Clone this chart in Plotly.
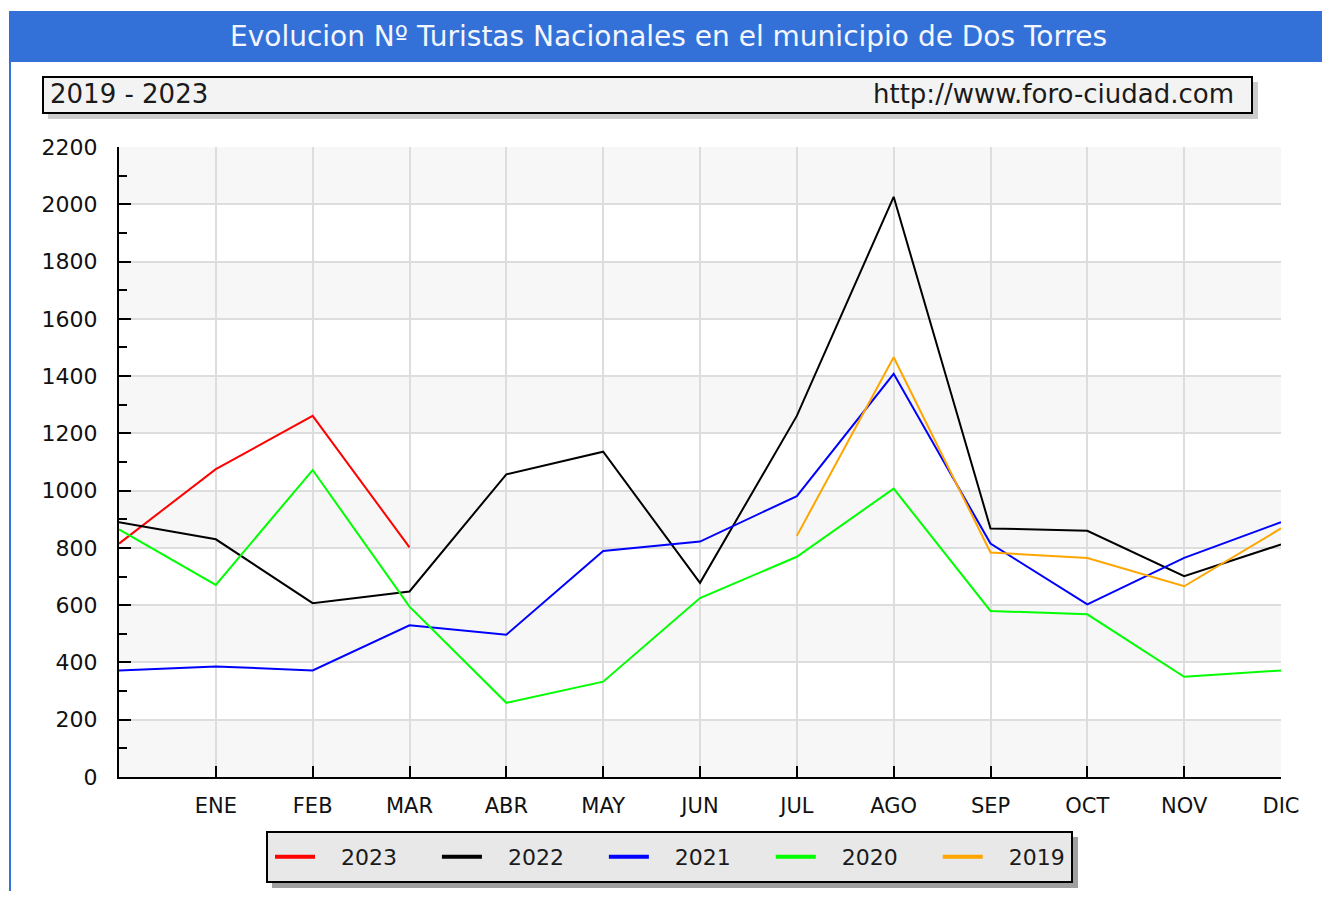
import plotly.graph_objects as go

# ---- data ----
months = ["ENE", "FEB", "MAR", "ABR", "MAY", "JUN", "JUL", "AGO", "SEP", "OCT", "NOV", "DIC"]
positions = list(range(13))  # 0 = start point before ENE

y2023 = [815, 1075, 1261, 802]
y2022 = [890, 830, 607, 648, 1057, 1136, 678, 1261, 2026, 868, 860, 701, 812]
y2021 = [372, 386, 372, 530, 497, 789, 822, 981, 1408, 815, 603, 765, 890]
y2020 = [865, 671, 1072, 595, 259, 333, 625, 769, 1007, 580, 568, 350, 372]
y2019 = [842, 1466, 784, 765, 666, 868]  # JUL..DIC
x2019 = positions[7:]

series = [
    ("2023", positions[:len(y2023)], y2023, "#ff0000"),
    ("2022", positions, y2022, "#000000"),
    ("2021", positions, y2021, "#0000ff"),
    ("2020", positions, y2020, "#00ff00"),
    ("2019", x2019, y2019, "#ffa500"),
]

OFF = 8  # page body margin
W, H = 1330 - 2 * OFF, 899 - 2 * OFF
L, R, T, B = 119, 1281, 147, 777  # plot area in reference pixels


def px(x):
    return (x - L) / (R - L)


def py(y):
    return (B - y) / (B - T)


NB = "\u00a0"
fig = go.Figure()
for name, xs, ys, col in series:
    fig.add_trace(go.Scatter(x=xs, y=ys, mode="lines", name=name, showlegend=False,
                             line=dict(color=col, width=2), hoverinfo="x+y+name"))
# legend entries (thicker sample lines)
for i, (name, xs, ys, col) in enumerate(series):
    label = NB * 3 + name + (NB * 5 if i < len(series) - 1 else "")
    fig.add_trace(go.Scatter(x=[None], y=[None], mode="lines", name=label, showlegend=True,
                             line=dict(color=col, width=4)))

shapes = []
# alternating bands
for lo in range(0, 2200, 400):
    shapes.append(dict(type="rect", xref="paper", yref="y", x0=0, x1=1, y0=lo, y1=lo + 200,
                       fillcolor="#f7f7f7", line=dict(width=0), layer="below"))
blue = "#3371d8"
# frame
shapes.append(dict(type="rect", xref="paper", yref="paper", x0=px(10), x1=px(1323), y0=py(12), y1=py(905),
                   line=dict(color=blue, width=2), fillcolor="rgba(0,0,0,0)", layer="below"))
# title bar
shapes.append(dict(type="rect", xref="paper", yref="paper", x0=px(10), x1=px(1323), y0=py(12), y1=py(62),
                   line=dict(width=0), fillcolor=blue, layer="below"))
# subtitle box shadow + box
shapes.append(dict(type="rect", xref="paper", yref="paper", x0=px(48), x1=px(1258), y0=py(82), y1=py(119),
                   line=dict(width=0), fillcolor="#cccccc", layer="below"))
shapes.append(dict(type="rect", xref="paper", yref="paper", x0=px(43), x1=px(1252), y0=py(77), y1=py(113),
                   line=dict(color="#000000", width=2), fillcolor="#f3f3f3", layer="below"))
# legend shadow + box
shapes.append(dict(type="rect", xref="paper", yref="paper", x0=px(272), x1=px(1078), y0=py(837), y1=py(888),
                   line=dict(width=0), fillcolor="#a0a0a0", layer="below"))
shapes.append(dict(type="rect", xref="paper", yref="paper", x0=px(267), x1=px(1072), y0=py(832), y1=py(882),
                   line=dict(color="#000000", width=2), fillcolor="#e8e8e8", layer="below"))

annotations = [
    dict(text="Evolucion Nº Turistas Nacionales en el municipio de Dos Torres", xref="paper", yref="paper",
         x=px(668), y=py(37), showarrow=False, font=dict(family="DejaVu Sans", size=28, color="#f4f6ff"),
         xanchor="center", yanchor="middle"),
    dict(text="2019 - 2023", xref="paper", yref="paper", x=px(48), y=py(94), showarrow=False,
         font=dict(family="DejaVu Sans", size=26, color="#1a1a1a"), xanchor="left", yanchor="middle"),
    dict(text="http://www.foro-ciudad.com", xref="paper", yref="paper", x=px(1236), y=py(94), showarrow=False,
         font=dict(family="DejaVu Sans", size=26, color="#1a1a1a"), xanchor="right", yanchor="middle"),
]

fig.update_layout(
    width=W, height=H,
    margin=dict(l=L - OFF, r=W - (R - OFF), t=T - OFF, b=H - (B - OFF), autoexpand=False),
    paper_bgcolor="white", plot_bgcolor="white",
    shapes=shapes, annotations=annotations,
    showlegend=True,
    legend=dict(orientation="h", x=px(270), y=py(857), xanchor="left", yanchor="middle",
                bgcolor="rgba(0,0,0,0)", borderwidth=0,
                font=dict(family="DejaVu Sans", size=22, color="#1a1a1a"),
                itemwidth=40, tracegroupgap=0),
    xaxis=dict(range=[0, 12], tickvals=list(range(1, 13)), ticktext=months,
               showgrid=True, gridcolor="#dddddd", gridwidth=2,
               showline=True, linecolor="#000000", linewidth=2,
               ticks="inside", ticklen=11, tickwidth=2, tickcolor="#000000",
               tickfont=dict(family="DejaVu Sans", size=21, color="#111111"),
               ticklabelstandoff=9,
               zeroline=False, fixedrange=True),
    yaxis=dict(range=[0, 2200], tickvals=list(range(0, 2201, 200)),
               showgrid=True, gridcolor="#dddddd", gridwidth=2,
               showline=True, linecolor="#000000", linewidth=2,
               ticks="inside", ticklen=12, tickwidth=2, tickcolor="#000000",
               minor=dict(dtick=100, ticks="inside", ticklen=8, tickwidth=2, tickcolor="#000000", showgrid=False),
               tickfont=dict(family="DejaVu Sans", size=22, color="#111111"),
               ticklabelstandoff=15,
               zeroline=False, fixedrange=True),
)

fig.write_html("out.html")
